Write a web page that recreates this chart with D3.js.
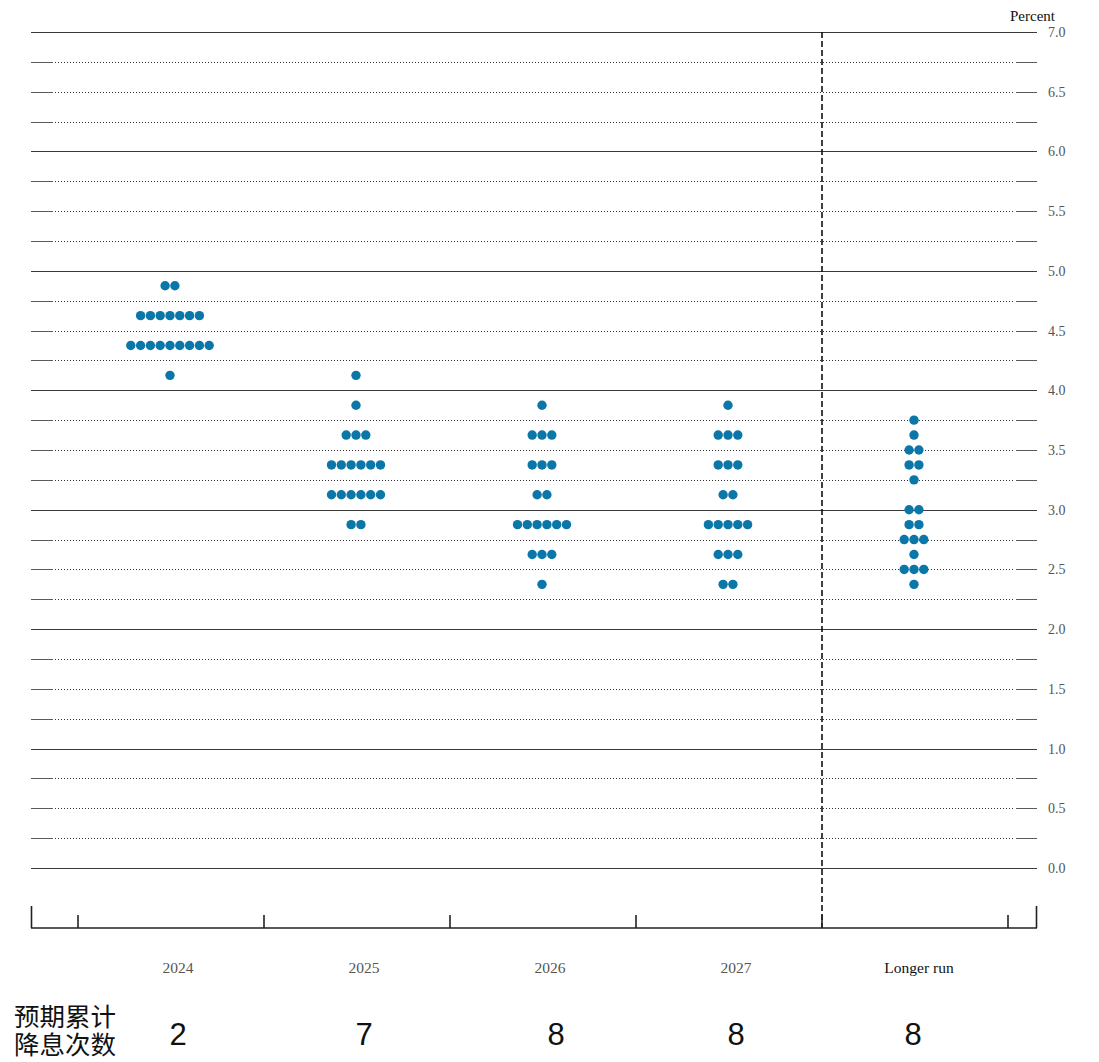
<!DOCTYPE html>
<html><head><meta charset="utf-8">
<script src="https://cdn.jsdelivr.net/npm/d3@7"></script>
<style>body{margin:0;background:#fff}svg{display:block}</style>
</head><body>
<svg id="c" width="1099" height="1062"></svg>
<script>
const categories = ["2024","2025","2026","2027","Longer run"];
const cutCounts = ["2","7","8","8","8"];
const yTicks = [0,0.5,1,1.5,2,2.5,3,3.5,4,4.5,5,5.5,6,6.5,7];
// [rate, number of participants]
const dots2024 = [[4.875,2],[4.625,7],[4.375,9],[4.125,1]];
const dots2025 = [[4.125,1],[3.875,1],[3.625,3],[3.375,6],[3.125,6],[2.875,2]];
const dots2026 = [[3.875,1],[3.625,3],[3.375,3],[3.125,2],[2.875,6],[2.625,3],[2.375,1]];
const dots2027 = [[3.875,1],[3.625,3],[3.375,3],[3.125,2],[2.875,5],[2.625,3],[2.375,2]];
const dotsLonger = [[3.75,1],[3.625,1],[3.5,2],[3.375,2],[3.25,1],[3.0,2],[2.875,2],[2.75,3],[2.625,1],[2.5,3],[2.375,1]];
const seriesDots = [dots2024,dots2025,dots2026,dots2027,dotsLonger];

const svg = d3.select("#c");
const y = d3.scaleLinear().domain([0,7]).range([868,32]);
const x = d3.scaleBand().domain(categories).range([78,1008]).paddingInner(0).paddingOuter(0);
const L = 31, R = 1037, base = 928;

// grid lines every 0.25
const gridVals = d3.range(0,7.001,0.25);
const g = svg.append("g");
gridVals.forEach(v=>{
  const yy = Math.round(y(v))+0.5;
  if (Math.abs(v-Math.round(v))<1e-6){
    g.append("line").attr("x1",L).attr("x2",R).attr("y1",yy).attr("y2",yy)
      .attr("stroke","#3a3a3a").attr("stroke-width",1.2);
  } else {
    g.append("line").attr("x1",L).attr("x2",53).attr("y1",yy).attr("y2",yy)
      .attr("stroke","#5a5a5a").attr("stroke-width",1);
    g.append("line").attr("x1",55).attr("x2",1015).attr("y1",yy).attr("y2",yy)
      .attr("stroke","#333").attr("stroke-width",1).attr("stroke-dasharray","1,2");
    g.append("line").attr("x1",1016).attr("x2",R).attr("y1",yy).attr("y2",yy)
      .attr("stroke","#5a5a5a").attr("stroke-width",1);
  }
});

// y tick labels
svg.append("g").selectAll("text").data(yTicks).join("text")
  .attr("x",1048).attr("y",d=>y(d)+5)
  .attr("font-family","Liberation Serif, serif").attr("font-size",14)
  .attr("fill","#555").text(d=>d.toFixed(1));
svg.append("text").attr("x",1055).attr("y",21).attr("text-anchor","end")
  .attr("font-family","Liberation Serif, serif").attr("font-size",15)
  .attr("fill","#111").text("Percent");

// vertical dashed separator
const sepX = x("Longer run");
svg.append("line").attr("x1",sepX).attr("x2",sepX).attr("y1",32).attr("y2",base)
  .attr("stroke","#111").attr("stroke-width",1.6).attr("stroke-dasharray","6,3");

// bottom axis
const ax = svg.append("g").attr("stroke","#222").attr("stroke-width",1.6);
ax.append("line").attr("x1",L).attr("x2",R).attr("y1",base).attr("y2",base);
ax.append("line").attr("x1",L+0.5).attr("x2",L+0.5).attr("y1",906).attr("y2",base);
ax.append("line").attr("x1",R-0.5).attr("x2",R-0.5).attr("y1",906).attr("y2",base);
const bounds = categories.map(c=>x(c)).concat([x.range()[1]]);
bounds.forEach(b=>{
  ax.append("line").attr("x1",b).attr("x2",b).attr("y1",915).attr("y2",base);
});

// category labels
svg.append("g").selectAll("text").data(categories).join("text")
  .attr("x",d=>x(d)+x.bandwidth()/2+(d==="Longer run"?4:7)).attr("y",973)
  .attr("text-anchor","middle")
  .attr("font-family","Liberation Serif, serif").attr("font-size",15.5)
  .attr("fill",d=>d==="Longer run"?"#111":"#555").text(d=>d);

// dots
const r = 4.7, step = 9.8;
const dotG = svg.append("g");
seriesDots.forEach((arr,i)=>{
  const cx = x(categories[i]) + x.bandwidth()/2 - 1;
  arr.forEach(([v,n])=>{
    for(let k=0;k<n;k++){
      dotG.append("circle")
        .attr("cx", cx + (k-(n-1)/2)*step)
        .attr("cy", y(v))
        .attr("r", r).attr("fill","#0b77a9");
    }
  });
});

// bottom Chinese label and counts
const cj = "Noto Sans CJK SC, sans-serif";
const lab = svg.append("text").attr("font-family",cj).attr("font-size",25.5).attr("fill","#111");
lab.append("tspan").attr("x",14).attr("y",1026).text("预期累计");
lab.append("tspan").attr("x",14).attr("y",1054).text("降息次数");
const numOff = [7,7,13,7,-2];
svg.append("g").selectAll("text").data(categories).join("text")
  .attr("x",(d,i)=>x(d)+x.bandwidth()/2+numOff[i]).attr("y",1045)
  .attr("text-anchor","middle").attr("font-family","Liberation Sans, Arial, sans-serif")
  .attr("font-size",31).attr("fill","#111").text((d,i)=>cutCounts[i]);
</script>
</body></html>
